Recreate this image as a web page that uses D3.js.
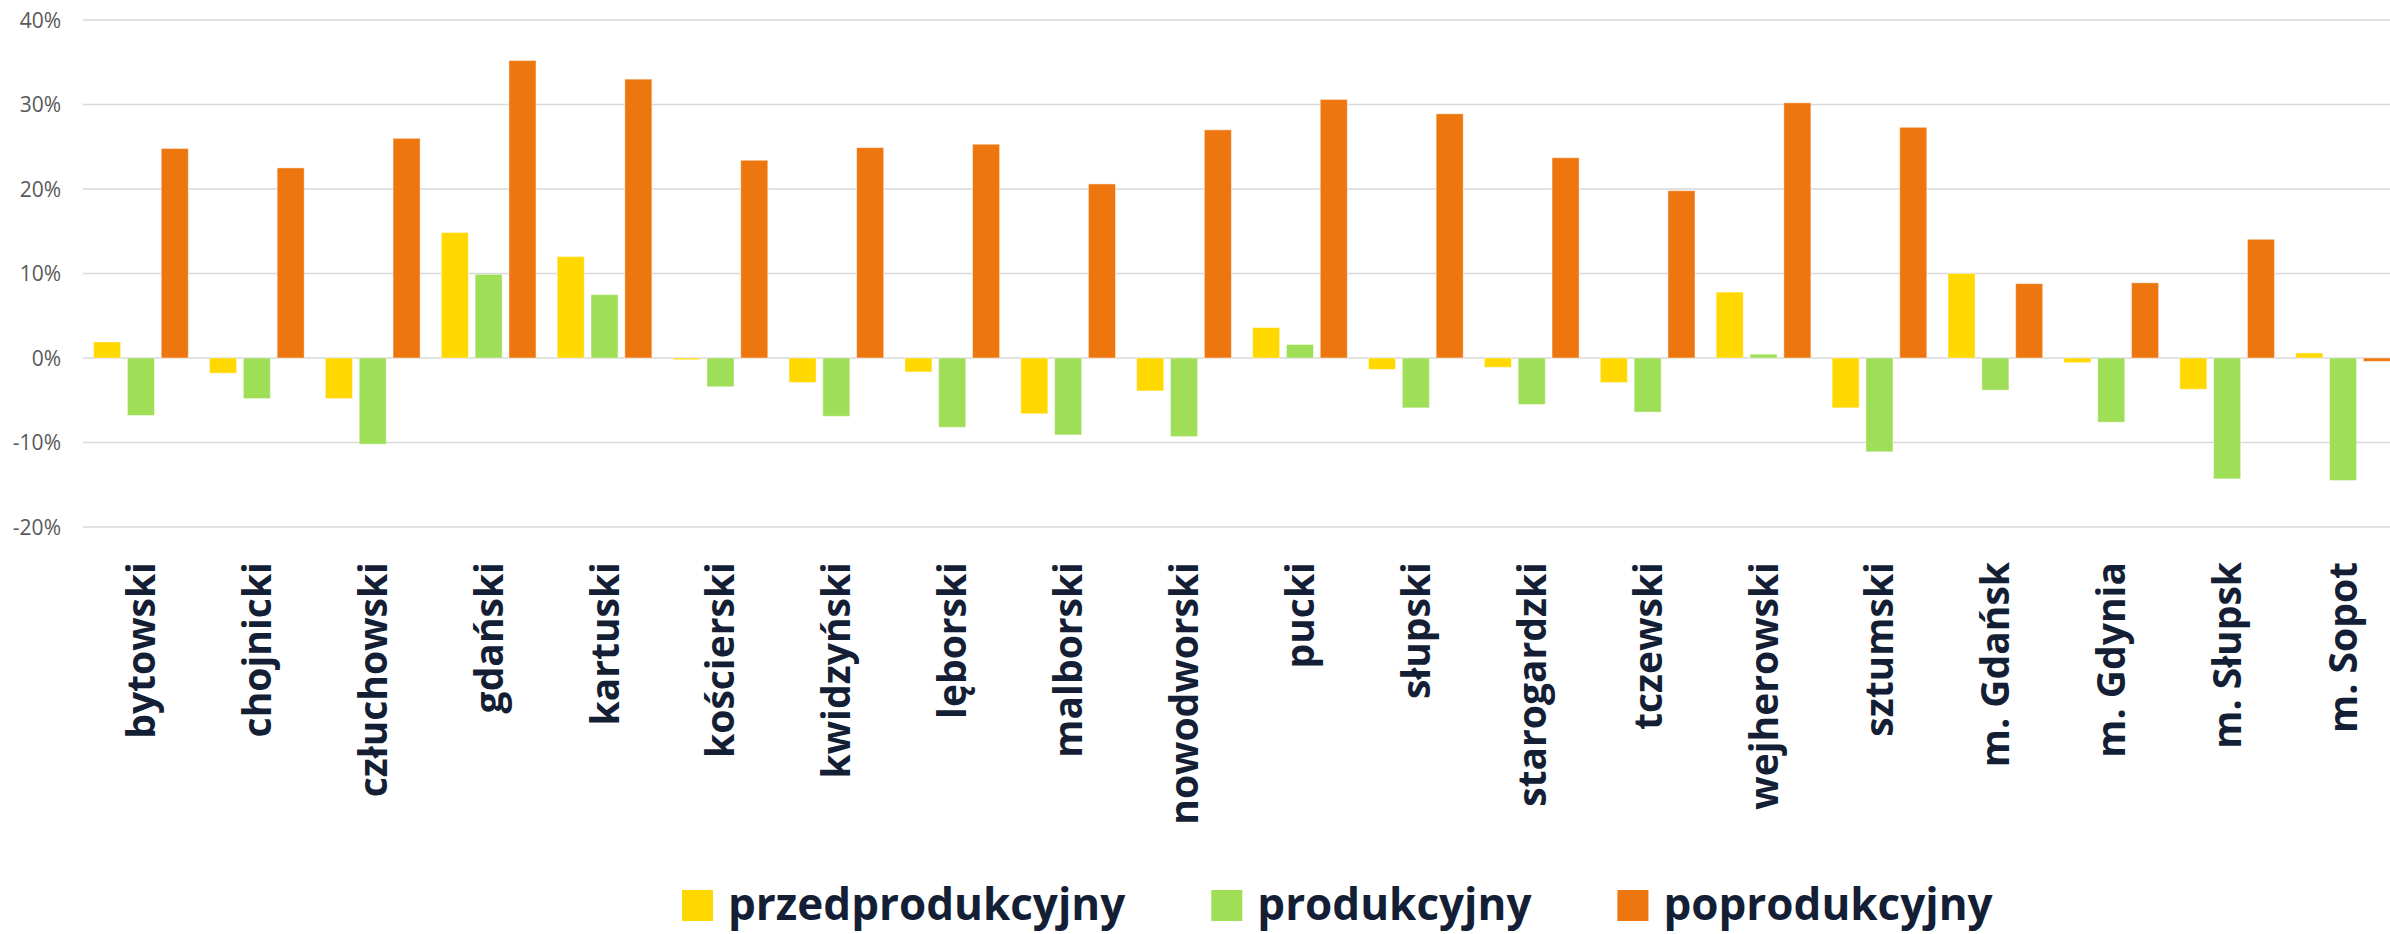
<!DOCTYPE html>
<html>
<head>
<meta charset="utf-8">
<script src="https://cdn.jsdelivr.net/npm/d3@7"></script>
<style>
  html, body { margin: 0; padding: 0; background: #fff; }
  svg { display: block; }
  .ylab { font-family: "Open Sans", sans-serif; font-size: 21px; fill: #595959; }
  .xlab { font-family: "Open Sans", sans-serif; font-size: 39px; font-weight: 700; fill: #141f36; }
  .leg  { font-family: "Open Sans", sans-serif; font-size: 44px; font-weight: 700; fill: #141f36; }
</style>
</head>
<body>
<svg id="chart"></svg>
<script>
const W = 2390, H = 934;

// powiaty
const categories = [
  'bytowski', 'chojnicki', 'człuchowski', 'gdański', 'kartuski',
  'kościerski', 'kwidzyński', 'lęborski', 'malborski', 'nowodworski',
  'pucki', 'słupski', 'starogardzki', 'tczewski', 'wejherowski',
  'sztumski', 'm. Gdańsk', 'm. Gdynia', 'm. Słupsk', 'm. Sopot'
];

// % change per age group
const przedprodukcyjny = [1.9, -1.8, -4.8, 14.85, 12.0, -0.2, -2.9, -1.65, -6.6, -3.9,
                          3.6, -1.35, -1.1, -2.9, 7.8, -5.9, 10.0, -0.55, -3.7, 0.6];
const produkcyjny      = [-6.8, -4.8, -10.2, 9.9, 7.5, -3.4, -6.9, -8.2, -9.1, -9.3,
                          1.6, -5.9, -5.5, -6.4, 0.45, -11.1, -3.8, -7.6, -14.3, -14.5];
const poprodukcyjny    = [24.8, 22.5, 26.0, 35.2, 33.0, 23.4, 24.9, 25.3, 20.6, 27.0,
                          30.6, 28.9, 23.7, 19.8, 30.2, 27.3, 8.8, 8.9, 14.05, -0.4];

const seriesNames  = ['przedprodukcyjny', 'produkcyjny', 'poprodukcyjny'];
const seriesColors = ['#FFD800', '#9FDE57', '#EE760F'];
const yTicks = [-20, -10, 0, 10, 20, 30, 40];

const seriesData = [przedprodukcyjny, produkcyjny, poprodukcyjny];

const svg = d3.select('#chart').attr('width', W).attr('height', H);

// plot area runs a bit past the right edge, like the cropped original
const x0 = d3.scaleBand().domain(categories).range([83, 2401]).padding(0);
const x1 = d3.scaleBand().domain(seriesNames)
  .range([x0.bandwidth() * 0.0915, x0.bandwidth() * 0.9085])
  .paddingInner(0.2);
const y = d3.scaleLinear().domain([-20, 40]).range([527, 20]);

// gridlines
svg.append('g')
  .selectAll('line')
  .data(yTicks)
  .join('line')
    .attr('x1', 83).attr('x2', W)
    .attr('y1', d => y(d)).attr('y2', d => y(d))
    .attr('stroke', '#d9d9d9')
    .attr('stroke-width', 1.5);

// y labels
svg.append('g')
  .selectAll('text')
  .data(yTicks)
  .join('text')
    .attr('class', 'ylab')
    .attr('x', 61)
    .attr('y', d => y(d))
    .attr('dy', '0.36em')
    .attr('text-anchor', 'end')
    .text(d => d + '%');

// bars
const groups = svg.append('g')
  .selectAll('g')
  .data(categories)
  .join('g')
    .attr('transform', d => `translate(${x0(d)},0)`);

groups.selectAll('rect')
  .data((d, i) => seriesNames.map((s, k) => ({ s, k, v: seriesData[k][i] })))
  .join('rect')
    .attr('x', d => x1(d.s))
    .attr('width', x1.bandwidth())
    .attr('y', d => y(Math.max(0, d.v)))
    .attr('height', d => Math.abs(y(d.v) - y(0)))
    .attr('fill', d => seriesColors[d.k])
    .attr('stroke', 'rgba(255,255,255,0.45)')
    .attr('stroke-width', 1);

// category labels, rotated
svg.append('g')
  .selectAll('text')
  .data(categories)
  .join('text')
    .attr('class', 'xlab')
    .attr('transform', d => `translate(${x0(d) + x0.bandwidth() / 2},562) rotate(-90)`)
    .attr('dy', '0.36em')
    .attr('text-anchor', 'end')
    .text(d => d);

// legend (nudged up a little so descenders stay inside)
const leg = svg.append('g');
let lx = 682;
seriesNames.forEach((name, k) => {
  leg.append('rect')
    .attr('x', lx).attr('y', 890)
    .attr('width', 31).attr('height', 31)
    .attr('fill', seriesColors[k]);
  const t = leg.append('text')
    .attr('class', 'leg')
    .attr('x', lx + 46).attr('y', 920)
    .text(name);
  lx += 46 + t.node().getComputedTextLength() + 86;
});
</script>
</body>
</html>
